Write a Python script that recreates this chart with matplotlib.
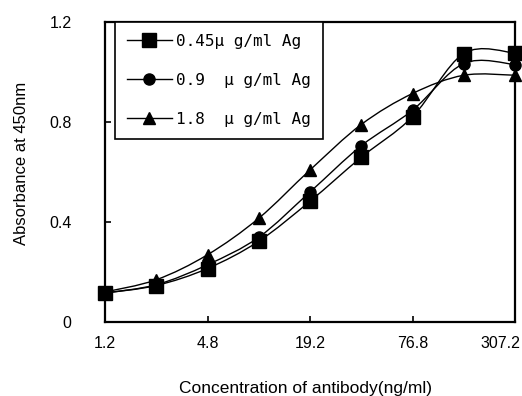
import matplotlib
matplotlib.use("Agg")
import matplotlib.pyplot as plt
import matplotlib.transforms as mtransforms
from matplotlib.path import Path
from matplotlib.patches import PathPatch
from matplotlib.lines import Line2D
import numpy as np

concentrations = ["1.2", "2.4", "4.8", "9.6", "19.2", "38.4", "76.8", "153.6", "307.2"]
tick_labels = ["1.2", "4.8", "19.2", "76.8", "307.2"]
ag_045 = [0.116, 0.146, 0.214, 0.323, 0.483, 0.659, 0.821, 1.074, 1.076]
ag_09 = [0.116, 0.149, 0.229, 0.339, 0.520, 0.705, 0.847, 1.034, 1.030]
ag_18 = [0.120, 0.169, 0.269, 0.415, 0.608, 0.790, 0.914, 0.987, 0.987]
series_labels = ["0.45\u03bc g/ml Ag", "0.9  \u03bc g/ml Ag", "1.8  \u03bc g/ml Ag"]
markers = ["s", "o", "^"]
msizes = [10, 8, 9]

fig = plt.figure(figsize=(5.22, 3.96), dpi=100)
ax = fig.add_axes([105/522, 1-322/396, 410/522, 300/396])

x = np.arange(len(concentrations))


def smooth_path(xs, ys):
    pts = np.column_stack([xs, ys]).astype(float)
    n = len(pts)
    verts = [pts[0]]
    codes = [Path.MOVETO]
    for i in range(n - 1):
        p0 = pts[i - 1] if i > 0 else pts[i]
        p1 = pts[i]
        p2 = pts[i + 1]
        p3 = pts[i + 2] if i + 2 < n else pts[i + 1]
        c1 = p1 + (p2 - p0) / 6.0
        c2 = p2 - (p3 - p1) / 6.0
        verts += [c1, c2, p2]
        codes += [Path.CURVE4] * 3
    return Path(verts, codes)


handles = []
for ys, lab, m, ms in zip([ag_045, ag_09, ag_18], series_labels, markers, msizes):
    patch = PathPatch(smooth_path(x, ys), facecolor="none", edgecolor="black",
                      lw=1.0, clip_on=False, zorder=2)
    ax.add_patch(patch)
    ax.plot(x, ys, linestyle="none", marker=m, markersize=ms, color="black",
            clip_on=False, zorder=3)
    handles.append(Line2D([], [], color="black", lw=1.0, marker=m,
                          markersize=ms, label=lab))

ax.set_xlim(0, len(concentrations) - 1)
ax.set_ylim(0, 1.2)
ax.set_xticks(x[::2])
ax.set_xticklabels(tick_labels)
ax.set_yticks([0, 0.4, 0.8, 1.2])
ax.set_yticklabels(["0", "0.4", "0.8", "1.2"])

for sp in ax.spines.values():
    sp.set_linewidth(1.6)
    sp.set_color("black")

ax.tick_params(axis="both", direction="in", length=4, width=1.2,
               labelsize=11.5, colors="black")
ax.tick_params(axis="x", pad=10)
ax.tick_params(axis="y", pad=24)
for t in ax.get_xticklabels() + ax.get_yticklabels():
    t.set_family("Liberation Sans")
last = ax.get_xticklabels()[-1]
last.set_horizontalalignment("right")
last.set_transform(last.get_transform() +
                   mtransforms.ScaledTranslation(5/100, 0, fig.dpi_scale_trans))

ax.set_xlabel("Concentration of antibody(ng/ml)", fontsize=12.5,
              family="Liberation Sans")
ax.xaxis.set_label_coords(0.488, -0.195)
ax.set_ylabel("Absorbance at 450nm", fontsize=12, family="Liberation Sans")
ax.yaxis.set_label_coords(-0.185, 0.53)

leg = ax.legend(handles=handles, loc="upper left", bbox_to_anchor=(0.024, 1.0),
                borderaxespad=0, frameon=True, fancybox=False, framealpha=1,
                edgecolor="black", handlelength=2.8, handletextpad=0.3,
                labelspacing=1.5, borderpad=0.75,
                prop={"family": "DejaVu Sans Mono", "size": 11.5})
leg.get_frame().set_linewidth(1.2)
leg.set_zorder(5)

fig.savefig("out.png", dpi=100)
